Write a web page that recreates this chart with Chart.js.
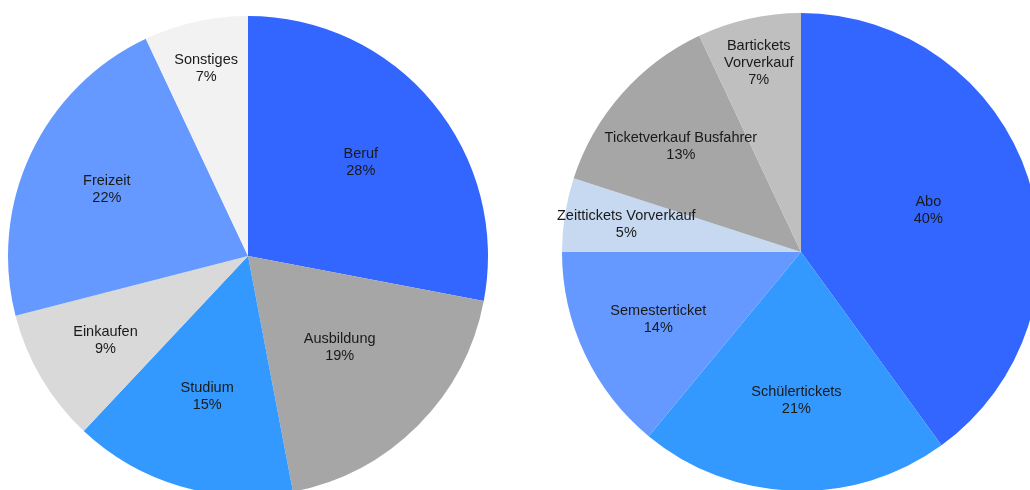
<!DOCTYPE html>
<html>
<head>
<meta charset="utf-8">
<script src="https://cdn.jsdelivr.net/npm/chart.js@4"></script>
<style>
    html, body { margin: 0; padding: 0; background: #fff; width: 1030px; height: 490px; overflow: hidden; }
    .pie { position: absolute; }
</style>
</head>
<body>
<div class="pie" style="left:0px; top:16px; width:496px; height:480px;"><canvas id="zweckChart"></canvas></div>
<div class="pie" style="left:532px; top:13px; width:538px; height:478px;"><canvas id="ticketChart"></canvas></div>
<script>
// linker Kreis: Fahrtzweck
const zweckLabels = ['Beruf', 'Ausbildung', 'Studium', 'Einkaufen', 'Freizeit', 'Sonstiges'];
const zweckWerte = [28, 19, 15, 9, 22, 7];

// rechter Kreis: Ticketarten
const ticketLabels = [['Abo'], ['Schülertickets'], ['Semesterticket'], ['Zeittickets Vorverkauf'], ['Ticketverkauf Busfahrer'], ['Bartickets', 'Vorverkauf']];
const ticketWerte = [40, 21, 14, 5, 13, 7];

const zweckFarben = ['#3366FF', '#A6A6A6', '#3399FF', '#D9D9D9', '#6699FF', '#F2F2F2'];
const ticketFarben = ['#3366FF', '#3399FF', '#6699FF', '#C6D9F1', '#A6A6A6', '#BFBFBF'];

// wie weit die Beschriftung vom Mittelpunkt liegt (Anteil am Radius)
const zweckLabelAbstand = [0.61, 0.54, 0.61, 0.69, 0.65, 0.80];
const ticketLabelAbstand = [0.56, 0.62, 0.66, 0.74, 0.67, 0.81];

const beschriftung = {
    id: 'beschriftung',
    afterDatasetsDraw(chart, args, opts) {
        const ctx = chart.ctx;
        const meta = chart.getDatasetMeta(0);
        const werte = chart.data.datasets[0].data;
        ctx.save();
        ctx.font = '14.5px "Liberation Sans", Arial, sans-serif';
        ctx.fillStyle = '#1a1a1a';
        ctx.textAlign = 'center';
        ctx.textBaseline = 'middle';
        meta.data.forEach((arc, i) => {
            const p = arc.getProps(['x', 'y', 'startAngle', 'endAngle', 'outerRadius'], true);
            const mitte = (p.startAngle + p.endAngle) / 2;
            const r = p.outerRadius * opts.abstand[i];
            const x = p.x + Math.cos(mitte) * r;
            const y = p.y + Math.sin(mitte) * r;
            let zeilen = chart.data.labels[i];
            if (!Array.isArray(zeilen)) zeilen = [zeilen];
            zeilen = zeilen.concat([werte[i] + '%']);
            const lh = 17;
            const y0 = y - (zeilen.length - 1) * lh / 2;
            zeilen.forEach((t, k) => ctx.fillText(t, x, y0 + k * lh));
        });
        ctx.restore();
    }
};

function kreisDiagramm(id, labels, werte, farben, abstand, padding) {
    new Chart(document.getElementById(id), {
        type: 'pie',
        data: {
            labels: labels,
            datasets: [{
                data: werte,
                backgroundColor: farben,
                borderWidth: 0
            }]
        },
        options: {
            responsive: true,
            maintainAspectRatio: false,
            animation: false,
            layout: { padding: padding },
            plugins: {
                legend: { display: false },
                tooltip: { enabled: false },
                beschriftung: { abstand: abstand }
            }
        },
        plugins: [beschriftung]
    });
}

kreisDiagramm('zweckChart', zweckLabels, zweckWerte, zweckFarben, zweckLabelAbstand, { left: 8, right: 8 });
kreisDiagramm('ticketChart', ticketLabels, ticketWerte, ticketFarben, ticketLabelAbstand, { left: 30, right: 30 });
</script>
</body>
</html>
